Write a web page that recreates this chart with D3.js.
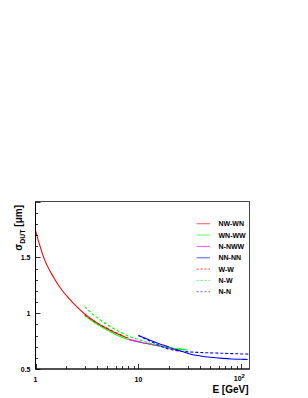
<!DOCTYPE html>
<html><head><meta charset="utf-8">
<script src="https://cdn.jsdelivr.net/npm/d3@7"></script>
<style>body{margin:0;background:#fff}svg{display:block}text{font-family:"Liberation Sans",Arial,sans-serif;font-weight:bold}</style>
</head><body>
<script>
// ---- data ----
const seriesNames = ["NW-WN","WN-WW","N-NWW","NN-NN","W-W","N-W","N-N"];
const seriesColors = ["#ff0000","#00ff00","#ff00ff","#0000ff","#ff0000","#00ff00","#0000ff"];
const seriesDashed = [false,false,false,false,true,true,true];

const eNWWN = [1,1.2,1.5,1.81,2.1,2.5,3,3.5,4,5,6,7,8];
const vNWWN = [1.74,1.5,1.32,1.205,1.135,1.06,0.993,0.945,0.909,0.859,0.823,0.796,0.775];
const eWNWW = [3,3.5,4.25,5,6,7.7,10,12,15,20,25,30];
const vWNWW = [0.98,0.935,0.885,0.848,0.808,0.768,0.742,0.728,0.71,0.69,0.678,0.67];
const eNNWW = [8,10,12,15,17.4,20,25];
const vNNWW = [0.765,0.745,0.728,0.71,0.70,0.687,0.662];
const eNNNN = [10,12,15,17.4,20,25,31.6,40,50,66,80,100,115];
const vNNNN = [0.80,0.77,0.735,0.714,0.695,0.665,0.635,0.617,0.605,0.595,0.59,0.587,0.585];
const eWW = [3,4,5,6,7];
const vWW = [0.985,0.91,0.862,0.826,0.80];
const eNW = [3,3.66,4.25,5,6.6,8,10.3,13,17.4,22,29];
const vNW = [1.06,0.985,0.94,0.895,0.833,0.795,0.76,0.73,0.70,0.685,0.676];
const eNN = [10,12,15,18,22,28,40,60,80,100,118];
const vNN = [0.80,0.765,0.722,0.69,0.668,0.656,0.648,0.642,0.638,0.635,0.633];

const yTicks = [0.5,1,1.5];
const yTickLabels = ["0.5","1","1.5"];
const xTicks = [1,10,100];

const seriesE = [eNWWN,eWNWW,eNNWW,eNNNN,eWW,eNW,eNN];
const seriesV = [vNWWN,vWNWW,vNNWW,vNNNN,vWW,vNW,vNN];

// ---- layout ----
const W = 308, H = 398;
const L = 35.5, R = 249.5, T = 201.5, B = 369;
const svg = d3.select("body").append("svg").attr("width",W).attr("height",H);
svg.append("rect").attr("width",W).attr("height",H).attr("fill","#fff");

const x = d3.scaleLog().domain([1,120]).range([L,R]);
const y = d3.scaleLinear().domain([0.5,2.0]).range([B,T]);

svg.append("clipPath").attr("id","c").append("rect").attr("x",L).attr("y",T).attr("width",R-L).attr("height",B-T);

// frame
svg.append("rect").attr("x",L).attr("y",T).attr("width",R-L).attr("height",B-T)
  .attr("fill","none").attr("stroke","#444").attr("stroke-width",1);

// curves
const line = d3.line().x(d=>x(d[0])).y(d=>y(d[1])).curve(d3.curveMonotoneX);
const g = svg.append("g").attr("clip-path","url(#c)");
seriesNames.forEach((n,i)=>{
  const pts = seriesE[i].map((e,j)=>[e,seriesV[i][j]]);
  g.append("path").attr("d",line(pts)).attr("fill","none")
    .attr("stroke",seriesColors[i]).attr("stroke-width",1.1)
    .attr("stroke-dasharray",seriesDashed[i]?"3,2":null);
});

// axes
const ax = svg.append("g");
ax.append("line").attr("x1",L).attr("x2",R).attr("y1",B).attr("y2",B).attr("stroke","#000");
ax.append("line").attr("x1",L).attr("x2",L).attr("y1",T).attr("y2",B).attr("stroke","#000");

d3.range(0.5,2.0001,0.1).forEach(v=>{
  const major = Math.abs(v*2-Math.round(v*2))<1e-6;
  const yy = Math.round(y(v))+0.5;
  ax.append("line").attr("x1",L).attr("x2",L+(major?5:2.5)).attr("y1",yy).attr("y2",yy).attr("stroke","#000").attr("stroke-width",0.8);
});
yTicks.forEach((v,i)=>{
  ax.append("text").attr("x",L-5).attr("y",y(v)+2.5).attr("text-anchor","end")
    .attr("font-size",7).text(yTickLabels[i]);
});

const xt = [];
for (let d=1; d<=100; d*=10) for (let k=1;k<10;k++){ const v=d*k; if(v<=120) xt.push(v); }
xt.forEach(v=>{
  const major = xTicks.includes(v);
  const xx = Math.round(x(v))+0.5;
  ax.append("line").attr("x1",xx).attr("x2",xx).attr("y1",B).attr("y2",B-(major?5:3)).attr("stroke","#000").attr("stroke-width",0.8);
});
ax.append("text").attr("x",x(1)).attr("y",381.5).attr("text-anchor","middle").attr("font-size",7).text("1");
ax.append("text").attr("x",x(10)).attr("y",381.5).attr("text-anchor","middle").attr("font-size",7).text("10");
const t100 = ax.append("text").attr("x",x(100)-2).attr("y",381).attr("text-anchor","middle").attr("font-size",7);
t100.append("tspan").text("10");
t100.append("tspan").attr("dy",-3).attr("font-size",6).text("2");

// axis titles
svg.append("text").attr("x",R-1).attr("y",393).attr("text-anchor","end").attr("font-size",10).text("E [GeV]");
const yl = svg.append("text").attr("transform","translate(22,205) rotate(-90)").attr("text-anchor","end").attr("font-size",10);
yl.append("tspan").text("σ");
yl.append("tspan").attr("dy",2.5).attr("font-size",7).text("DUT");
yl.append("tspan").attr("dy",-2.5).text(" [μm]");

// legend
const lg = svg.append("g");
seriesNames.forEach((n,i)=>{
  const yy = 223.7 + i*11.35;
  lg.append("line").attr("x1",196.5).attr("x2",210).attr("y1",yy).attr("y2",yy)
    .attr("stroke",seriesColors[i]).attr("stroke-width",1.1).attr("opacity",0.6)
    .attr("stroke-dasharray",seriesDashed[i]?"2,2":null);
  lg.append("text").attr("x",218.5).attr("y",yy+2.5).attr("font-size",7).text(n);
});
</script>
</body></html>
